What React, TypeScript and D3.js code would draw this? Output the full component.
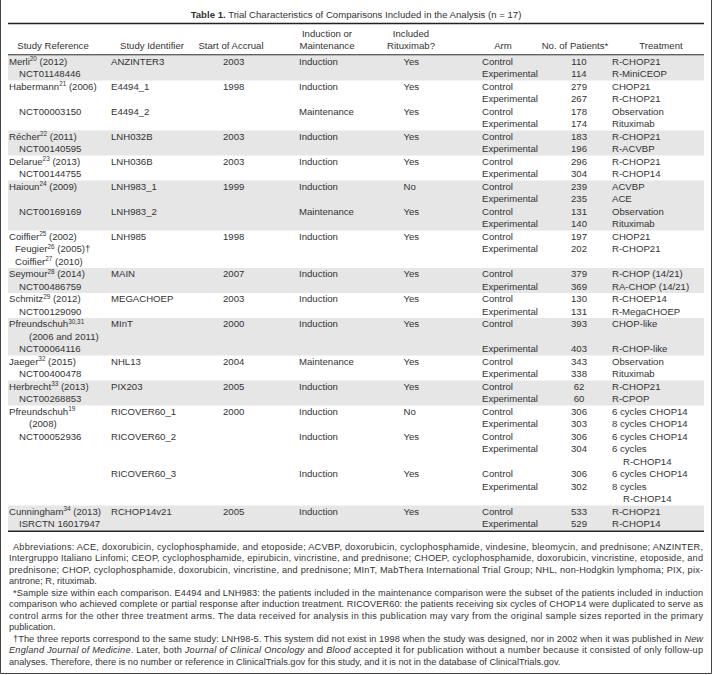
import * as d3 from 'd3';
import React from 'react';

const W = 712;
const H = 675;

const title = ['Table 1.', ' Trial Characteristics of Comparisons Included in the Analysis (n = 17)'];

const headers = [
  ['Study Reference'],
  ['Study Identifier'],
  ['Start of Accrual'],
  ['Induction or', 'Maintenance'],
  ['Included', 'Rituximab?'],
  ['Arm'],
  ['No. of Patients*'],
  ['Treatment'],
];

// lines used by each study block
const groupLineCounts = [2, 4, 2, 2, 4, 3, 2, 2, 3, 2, 2, 8, 2];

type RefLine = { t: string; s?: string; r?: string; ind?: 'a' | 'b' | 'c'; at: number };

const references: RefLine[][] = [
  [{ t: 'Merli', s: '20', r: ' (2012)', at: 0 }, { t: 'NCT01148446', ind: 'b', at: 1 }],
  [{ t: 'Habermann', s: '21', r: ' (2006)', at: 0 }, { t: 'NCT00003150', ind: 'b', at: 2 }],
  [{ t: 'Récher', s: '22', r: ' (2011)', at: 0 }, { t: 'NCT00140595', ind: 'b', at: 1 }],
  [{ t: 'Delarue', s: '23', r: ' (2013)', at: 0 }, { t: 'NCT00144755', ind: 'b', at: 1 }],
  [{ t: 'Haioun', s: '24', r: ' (2009)', at: 0 }, { t: 'NCT00169169', ind: 'b', at: 2 }],
  [
    { t: 'Coiffier', s: '25', r: ' (2002)', at: 0 },
    { t: 'Feugier', s: '26', r: ' (2005)†', ind: 'a', at: 1 },
    { t: 'Coiffier', s: '27', r: ' (2010)', ind: 'a', at: 2 },
  ],
  [{ t: 'Seymour', s: '28', r: ' (2014)', at: 0 }, { t: 'NCT00486759', ind: 'b', at: 1 }],
  [{ t: 'Schmitz', s: '29', r: ' (2012)', at: 0 }, { t: 'NCT00129090', ind: 'b', at: 1 }],
  [
    { t: 'Pfreundschuh', s: '30,31', at: 0 },
    { t: '(2006 and 2011)', ind: 'c', at: 1 },
    { t: 'NCT00064116', ind: 'b', at: 2 },
  ],
  [{ t: 'Jaeger', s: '32', r: ' (2015)', at: 0 }, { t: 'NCT00400478', ind: 'b', at: 1 }],
  [{ t: 'Herbrecht', s: '33', r: ' (2013)', at: 0 }, { t: 'NCT00268853', ind: 'b', at: 1 }],
  [
    { t: 'Pfreundschuh', s: '19', at: 0 },
    { t: '(2008)', ind: 'c', at: 1 },
    { t: 'NCT00052936', ind: 'b', at: 2 },
  ],
  [{ t: 'Cunningham', s: '34', r: ' (2013)', at: 0 }, { t: 'ISRCTN 16017947', ind: 'b', at: 1 }],
];

const comparisonIds = ['ANZINTER3', 'E4494_1', 'E4494_2', 'LNH032B', 'LNH036B', 'LNH983_1', 'LNH983_2', 'LNH985', 'MAIN', 'MEGACHOEP', 'MInT', 'NHL13', 'PIX203', 'RICOVER60_1', 'RICOVER60_2', 'RICOVER60_3', 'RCHOP14v21'];
const comparisonGroup = [0, 1, 1, 2, 3, 4, 4, 5, 6, 7, 8, 9, 10, 11, 11, 11, 12];
const comparisonLine = [0, 0, 2, 0, 0, 0, 2, 0, 0, 0, 0, 0, 0, 0, 2, 5, 0];
const accrualStart = ['2003', '1998', '', '2003', '2003', '1999', '', '1998', '2007', '2003', '2000', '2004', '2005', '2000', '', '', '2005'];
const phase = ['Induction', 'Induction', 'Maintenance', 'Induction', 'Induction', 'Induction', 'Maintenance', 'Induction', 'Induction', 'Induction', 'Induction', 'Maintenance', 'Induction', 'Induction', 'Induction', 'Induction', 'Induction'];
const rituximab = ['Yes', 'Yes', 'Yes', 'Yes', 'Yes', 'No', 'Yes', 'Yes', 'Yes', 'Yes', 'Yes', 'Yes', 'Yes', 'No', 'Yes', 'Yes', 'Yes'];

const controlPatients = [110, 279, 178, 183, 296, 239, 131, 197, 379, 130, 393, 343, 62, 306, 306, 306, 533];
const experimentalPatients = [114, 267, 174, 196, 304, 235, 140, 202, 369, 131, 403, 338, 60, 303, 304, 302, 529];
const controlTreatment = ['R-CHOP21', 'CHOP21', 'Observation', 'R-CHOP21', 'R-CHOP21', 'ACVBP', 'Observation', 'CHOP21', 'R-CHOP (14/21)', 'R-CHOEP14', 'CHOP-like', 'Observation', 'R-CHOP21', '6 cycles CHOP14', '6 cycles CHOP14', '6 cycles CHOP14', 'R-CHOP21'];
const experimentalTreatment = [['R-MiniCEOP'], ['R-CHOP21'], ['Rituximab'], ['R-ACVBP'], ['R-CHOP14'], ['ACE'], ['Rituximab'], ['R-CHOP21'], ['RA-CHOP (14/21)'], ['R-MegaCHOEP'], ['R-CHOP-like'], ['Rituximab'], ['R-CPOP'], ['8 cycles CHOP14'], ['6 cycles', 'R-CHOP14'], ['8 cycles', 'R-CHOP14'], ['R-CHOP14']];
const experimentalOffset = [1, 1, 1, 1, 1, 1, 1, 1, 1, 1, 2, 1, 1, 1, 1, 1, 1];

type Seg = [string, boolean?];
type NoteLine = { segs: Seg[]; first?: boolean; last?: boolean };

const notes: NoteLine[] = [
  { first: true, segs: [['Abbreviations: ACE, doxorubicin, cyclophosphamide, and etoposide; ACVBP, doxorubicin, cyclophosphamide, vindesine, bleomycin, and prednisone; ANZINTER,']] },
  { segs: [['Intergruppo Italiano Linfomi; CEOP, cyclophosphamide, epirubicin, vincristine, and prednisone; CHOEP, cyclophosphamide, doxorubicin, vincristine, etoposide, and']] },
  { segs: [['prednisone; CHOP, cyclophosphamide, doxorubicin, vincristine, and prednisone; MInT, MabThera International Trial Group; NHL, non-Hodgkin lymphoma; PIX, pix-']] },
  { last: true, segs: [['antrone; R, rituximab.']] },
  { first: true, segs: [['*Sample size within each comparison. E4494 and LNH983: the patients included in the maintenance comparison were the subset of the patients included in induction']] },
  { segs: [['comparison who achieved complete or partial response after induction treatment. RICOVER60: the patients receiving six cycles of CHOP14 were duplicated to serve as']] },
  { segs: [['control arms for the other three treatment arms. The data received for analysis in this publication may vary from the original sample sizes reported in the primary']] },
  { last: true, segs: [['publication.']] },
  { first: true, segs: [['†The three reports correspond to the same study: LNH98-5. This system did not exist in 1998 when the study was designed, nor in 2002 when it was published in '], ['New', true]] },
  { segs: [['England Journal of Medicine', true], ['. Later, both '], ['Journal of Clinical Oncology', true], [' and '], ['Blood', true], [' accepted it for publication without a number because it consisted of only follow-up']] },
  { last: true, segs: [['analyses. Therefore, there is no number or reference in ClinicalTrials.gov for this study, and it is not in the database of ClinicalTrials.gov.']] },
];

const FONT = '"Liberation Sans", Arial, sans-serif';
const FS = 9.6;
const INK = '#333';

export default function App() {
  const starts = [0, ...Array.from(d3.cumsum(groupLineCounts))];
  const total = starts[starts.length - 1];
  const y = d3.scaleLinear().domain([0, total]).range([55.5, 530.5]);
  const base = (line: number) => y(line) + 9.3;

  const left = 8;
  const right = 704;

  const headerX = d3.scaleOrdinal<number, number>()
    .domain(d3.range(headers.length))
    .range([53, 152, 231, 327, 411, 503, 575, 661]);
  const colX = d3.scaleOrdinal<string, number>()
    .domain(['ref', 'id', 'start', 'phase', 'rit', 'arm', 'n', 'trt'])
    .range([9, 111, 223, 299, 403.5, 482, 579, 612]);
  const indent = { a: 6, b: 10, c: 20 } as Record<string, number>;

  const noteY = d3.scaleLinear().domain([0, notes.length - 1]).range([549.5, 665]);

  const txt = (x: number, yy: number, s: string | number, anchor = 'start', key?: string) => (
    <text key={key} x={x} y={yy} textAnchor={anchor}>{s}</text>
  );

  return (
    <svg width={W} height={H} style={{ position: 'absolute', left: 0, top: 0 }}
      fontFamily={FONT} fontSize={FS} fill={INK}>
      <rect x={0} y={0} width={W} height={H} fill="#fff" />

      {/* title */}
      <text x={W / 2} y={18} textAnchor="middle">
        <tspan fontWeight="bold">{title[0]}</tspan>
        <tspan>{title[1]}</tspan>
      </text>
      <line x1={left} x2={right} y1={23.5} y2={23.5} stroke="#222" strokeWidth={1.4} />

      {/* header */}
      {headers.map((h, i) => h.map((s, j) => (
        <text key={`h${i}-${j}`} x={headerX(i)} y={49 - (h.length - 1 - j) * 12.3} textAnchor="middle">{s}</text>
      )))}

      {/* row bands */}
      {groupLineCounts.map((c, g) => g % 2 === 0 ? (
        <rect key={`b${g}`} x={left} width={right - left} y={y(starts[g])} height={y(starts[g] + c) - y(starts[g])} fill="#e6e6e6" />
      ) : null)}
      <line x1={left} x2={right} y1={54.8} y2={54.8} stroke="#222" strokeWidth={1} />

      {/* study references */}
      {references.map((g, gi) => g.map((r, li) => (
        <text key={`r${gi}-${li}`} x={colX('ref') + (r.ind ? indent[r.ind] : 0)} y={base(starts[gi] + r.at)}>
          <tspan>{r.t}</tspan>
          {r.s ? <tspan dy={-3.6} fontSize={6.4}>{r.s}</tspan> : null}
          {r.r ? <tspan dy={r.s ? 3.6 : 0}>{r.r}</tspan> : null}
        </text>
      )))}

      {/* comparisons */}
      {comparisonIds.map((id, i) => {
        const l0 = starts[comparisonGroup[i]] + comparisonLine[i];
        const l1 = l0 + experimentalOffset[i];
        return (
          <g key={`c${i}`}>
            {txt(colX('id'), base(l0), id)}
            {accrualStart[i] ? txt(colX('start'), base(l0), accrualStart[i]) : null}
            {txt(colX('phase'), base(l0), phase[i])}
            {txt(colX('rit'), base(l0), rituximab[i])}
            {txt(colX('arm'), base(l0), 'Control')}
            {txt(colX('n'), base(l0), controlPatients[i], 'middle')}
            {txt(colX('trt'), base(l0), controlTreatment[i])}
            {txt(colX('arm'), base(l1), 'Experimental')}
            {txt(colX('n'), base(l1), experimentalPatients[i], 'middle')}
            {experimentalTreatment[i].map((s, k) => txt(colX('trt') + (k > 0 ? 11 : 0), base(l1 + k), s, 'start', `t${k}`))}
          </g>
        );
      })}

      <line x1={left} x2={right} y1={531.3} y2={531.3} stroke="#222" strokeWidth={1.4} />

      {/* footnotes */}
      {notes.map((n, i) => {
        const x0 = n.first ? 13 : 9;
        return (
          <text key={`n${i}`} x={x0} y={noteY(i)} fontSize={9.2}
            {...(n.last ? {} : { textLength: 703 - x0, lengthAdjust: 'spacing' })}>
            {n.segs.map((s, k) => (
              <tspan key={k} fontStyle={s[1] ? 'italic' : 'normal'}>{s[0]}</tspan>
            ))}
          </text>
        );
      })}

      {/* frame */}
      <path d={`M0.5,0 V${H - 1.5} H${W - 0.5} V0`} fill="none" stroke="#444" strokeWidth={1} />
    </svg>
  );
}
